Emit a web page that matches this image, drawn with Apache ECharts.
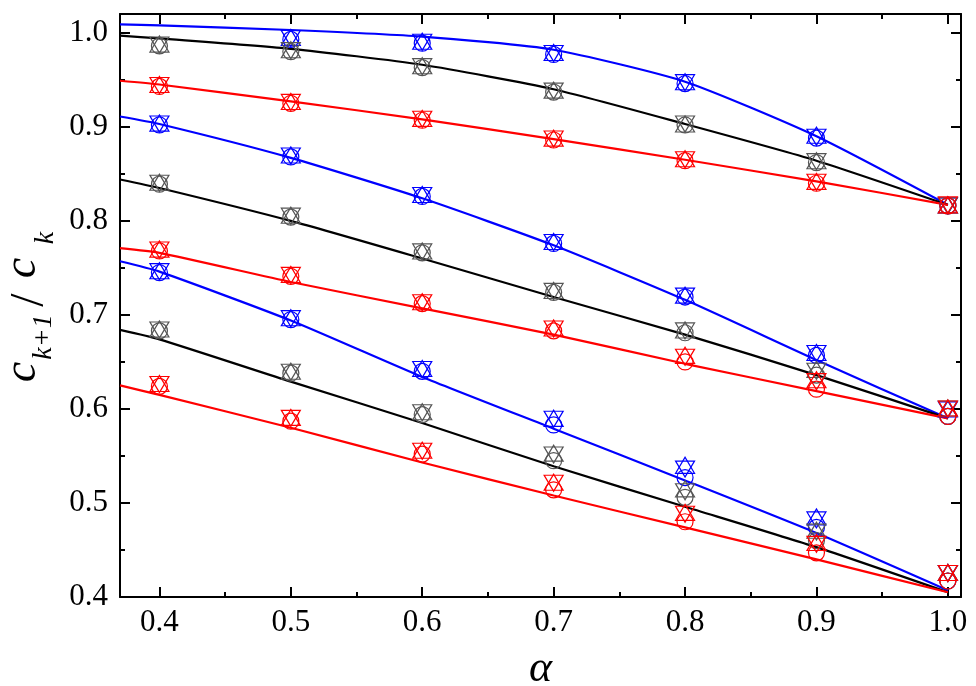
<!DOCTYPE html>
<html>
<head>
<meta charset="utf-8">
<script src="https://cdn.jsdelivr.net/npm/echarts@6/dist/echarts.min.js"></script>
<style>
  html, body { margin: 0; padding: 0; background: #fff; }
  #chart { width: 976px; height: 686px; }
</style>
</head>
<body>
<div id="chart"></div>
<script>
const alpha = [0.4, 0.5, 0.6, 0.7, 0.8, 0.9, 1.0];
const lineAlpha = [0.37, 0.4, 0.5, 0.6, 0.7, 0.8, 0.9, 1.0];

const xTicks = [0.4, 0.5, 0.6, 0.7, 0.8, 0.9, 1.0];
const xMinor = [0.45, 0.55, 0.65, 0.75, 0.85, 0.95];
const yTicks = [0.4, 0.5, 0.6, 0.7, 0.8, 0.9, 1.0];
const yMinor = [0.45, 0.55, 0.65, 0.75, 0.85, 0.95];

// group 1 (top)
const g1BlueLine = [1.009, 1.008, 1.003, 0.996, 0.982, 0.948, 0.890, 0.817];
const g1BlueCirc = [null, 0.993, 0.989, 0.977, 0.946, 0.888, 0.816];
const g1BlueUp   = [null, 0.995, 0.991, 0.979, 0.948, 0.891, 0.817];
const g1BlueDown = [null, 0.994, 0.990, 0.978, 0.947, 0.889, 0.816];
const g1BlackLine = [0.997, 0.994, 0.983, 0.966, 0.940, 0.903, 0.864, 0.817];
const g1GrayCirc = [0.986, 0.980, 0.963, 0.937, 0.902, 0.862, 0.816];
const g1GrayUp   = [0.988, 0.982, 0.965, 0.939, 0.903, 0.864, 0.817];
const g1GrayDown = [0.987, 0.981, 0.964, 0.938, 0.903, 0.863, 0.816];
const g1RedLine = [0.949, 0.945, 0.927, 0.908, 0.887, 0.865, 0.842, 0.817];
const g1RedCirc = [0.943, 0.925, 0.907, 0.886, 0.864, 0.840, 0.816];
const g1RedUp   = [0.945, 0.927, 0.909, 0.888, 0.866, 0.842, 0.817];
const g1RedDown = [0.944, 0.926, 0.908, 0.887, 0.865, 0.841, 0.817];

// group 2 (middle)
const g2BlueLine = [0.911, 0.903, 0.867, 0.824, 0.774, 0.716, 0.652, 0.590];
const g2BlueCirc = [0.902, 0.868, 0.826, 0.776, 0.719, 0.657, 0.592];
const g2BlueUp   = [0.904, 0.870, 0.828, 0.778, 0.721, 0.660, 0.600];
const g2BlueDown = [0.903, 0.869, 0.827, 0.777, 0.720, 0.659, 0.599];
const g2BlackLine = [0.844, 0.835, 0.800, 0.760, 0.719, 0.679, 0.636, 0.590];
const g2GrayCirc = [0.839, 0.804, 0.766, 0.724, 0.681, 0.636, 0.592];
const g2GrayUp   = [0.841, 0.806, 0.768, 0.726, 0.684, 0.642, 0.601];
const g2GrayDown = [0.840, 0.805, 0.767, 0.725, 0.683, 0.640, 0.600];
const g2RedLine = [0.771, 0.766, 0.735, 0.707, 0.679, 0.648, 0.619, 0.590];
const g2RedCirc = [0.768, 0.741, 0.712, 0.683, 0.650, 0.621, 0.592];
const g2RedUp   = [0.770, 0.743, 0.714, 0.686, 0.657, 0.631, 0.601];
const g2RedDown = [0.769, 0.742, 0.713, 0.685, 0.655, 0.629, 0.600];

// group 3 (bottom)
const g3BlueLine = [0.757, 0.746, 0.694, 0.634, 0.579, 0.524, 0.468, 0.407];
const g3BlueCirc = [0.745, 0.695, 0.640, 0.583, 0.527, 0.474, 0.417];
const g3BlueUp   = [0.747, 0.697, 0.643, 0.590, 0.540, 0.485, 0.426];
const g3BlueDown = [0.746, 0.696, 0.642, 0.589, 0.536, 0.482, 0.425];
const g3BlackLine = [0.684, 0.674, 0.629, 0.585, 0.539, 0.496, 0.453, 0.405];
const g3GrayCirc = [0.683, 0.638, 0.594, 0.545, 0.506, 0.460, 0.417];
const g3GrayUp   = [0.685, 0.640, 0.597, 0.553, 0.515, 0.471, 0.426];
const g3GrayDown = [0.684, 0.639, 0.596, 0.551, 0.512, 0.469, 0.425];
const g3RedLine = [0.625, 0.615, 0.580, 0.543, 0.508, 0.474, 0.440, 0.405];
const g3RedCirc = [0.624, 0.587, 0.552, 0.514, 0.480, 0.447, 0.417];
const g3RedUp   = [0.627, 0.591, 0.556, 0.522, 0.490, 0.458, 0.426];
const g3RedDown = [0.626, 0.590, 0.555, 0.521, 0.488, 0.456, 0.425];

const BLUE = '#0000ff', BLACK = '#000000', GRAY = '#555555', RED = '#ff0000';
const FONT = '"Liberation Serif", "DejaVu Serif", serif';

function pairs(xs, ys) {
  return xs.map((x, i) => [x, ys[i]]).filter(p => p[1] != null);
}

function curve(ys, color) {
  return {
    type: 'line', data: pairs(lineAlpha, ys), smooth: 0.2,
    showSymbol: false, lineStyle: {color: color, width: 2.2}, z: 2, silent: true
  };
}

function marks(ys, color, kind) {
  const s = {
    type: 'scatter', data: pairs(alpha, ys), z: 3, silent: true,
    itemStyle: {color: 'rgba(0,0,0,0)', borderColor: color, borderWidth: 1.2, opacity: 1}
  };
  if (kind === 'circle') {
    s.symbol = 'circle';
    s.symbolSize = 16;
  } else {
    s.symbol = 'triangle';
    s.symbolSize = [19, 16];
    if (kind === 'down') s.symbolRotate = 180;
  }
  return s;
}

const groups = [
  [g1BlueLine, g1BlueCirc, g1BlueUp, g1BlueDown, BLUE, BLUE],
  [g1BlackLine, g1GrayCirc, g1GrayUp, g1GrayDown, BLACK, GRAY],
  [g1RedLine, g1RedCirc, g1RedUp, g1RedDown, RED, RED],
  [g2BlueLine, g2BlueCirc, g2BlueUp, g2BlueDown, BLUE, BLUE],
  [g2BlackLine, g2GrayCirc, g2GrayUp, g2GrayDown, BLACK, GRAY],
  [g2RedLine, g2RedCirc, g2RedUp, g2RedDown, RED, RED],
  [g3BlueLine, g3BlueCirc, g3BlueUp, g3BlueDown, BLUE, BLUE],
  [g3BlackLine, g3GrayCirc, g3GrayUp, g3GrayDown, BLACK, GRAY],
  [g3RedLine, g3RedCirc, g3RedUp, g3RedDown, RED, RED],
];

const series = [];
groups.forEach(g => {
  series.push(curve(g[0], g[4]));
  series.push(marks(g[1], g[5], 'circle'));
  series.push(marks(g[2], g[5], 'up'));
  series.push(marks(g[3], g[5], 'down'));
});

function axis(kind, position, ticks, len, withLine, withLabel) {
  return {
    type: 'value', position: position,
    min: kind === 'x' ? 0.37 : 0.4,
    max: kind === 'x' ? 1.01 : 1.02,
    splitLine: {show: false},
    axisLine: {show: withLine, onZero: false, lineStyle: {color: '#000', width: 2}},
    axisTick: {show: true, inside: true, length: len, customValues: ticks,
      lineStyle: {color: '#000', width: 2}},
    axisLabel: {show: withLabel, customValues: ticks,
      formatter: v => v.toFixed(1),
      margin: kind === 'x' ? 10 : 12,
      color: '#000', fontFamily: FONT, fontSize: 31},
  };
}

const xAxes = [
  axis('x', 'bottom', xTicks, 10, true, true),
  axis('x', 'bottom', xMinor, 5, false, false),
  axis('x', 'top', xTicks, 10, true, false),
  axis('x', 'top', xMinor, 5, false, false),
];
xAxes[0].name = 'α';
xAxes[0].nameLocation = 'middle';
xAxes[0].nameGap = 50;
xAxes[0].nameTextStyle = {fontFamily: FONT, fontStyle: 'italic', fontSize: 44, color: '#000'};

const yAxes = [
  axis('y', 'left', yTicks, 10, true, true),
  axis('y', 'left', yMinor, 5, false, false),
  axis('y', 'right', yTicks, 10, true, false),
  axis('y', 'right', yMinor, 5, false, false),
];

// y-axis title c_{k+1}/c_k, built from pieces so the subscripts sit low
const it = 'italic 46px "Liberation Serif", "DejaVu Serif", serif';
const sub = 'italic 28px "Liberation Serif", "DejaVu Serif", serif';
const up = '48px "Liberation Serif", "DejaVu Serif", serif';
const yTitle = {
  type: 'group', x: 26, y: 400, rotation: Math.PI / 2,
  children: [
    {type: 'text', x: 28, y: -3, style: {text: 'c', font: it, fill: '#000', align: 'center', verticalAlign: 'middle'}},
    {type: 'text', x: 63, y: 18, style: {text: 'k+1', font: sub, fill: '#000', align: 'center', verticalAlign: 'middle'}},
    {type: 'text', x: 100, y: 4, style: {text: '/', font: up, fill: '#000', align: 'center', verticalAlign: 'middle'}},
    {type: 'text', x: 132, y: -3, style: {text: 'c', font: it, fill: '#000', align: 'center', verticalAlign: 'middle'}},
    {type: 'text', x: 162, y: 20, style: {text: 'k', font: sub, fill: '#000', align: 'center', verticalAlign: 'middle'}},
  ]
};

const chart = echarts.init(document.getElementById('chart'));
chart.setOption({
  animation: false,
  backgroundColor: '#fff',
  grid: {left: 120, right: 15, top: 14, bottom: 89, containLabel: false, outerBoundsMode: 'none'},
  xAxis: xAxes,
  yAxis: yAxes,
  graphic: [yTitle],
  series: series,
});
</script>
</body>
</html>
